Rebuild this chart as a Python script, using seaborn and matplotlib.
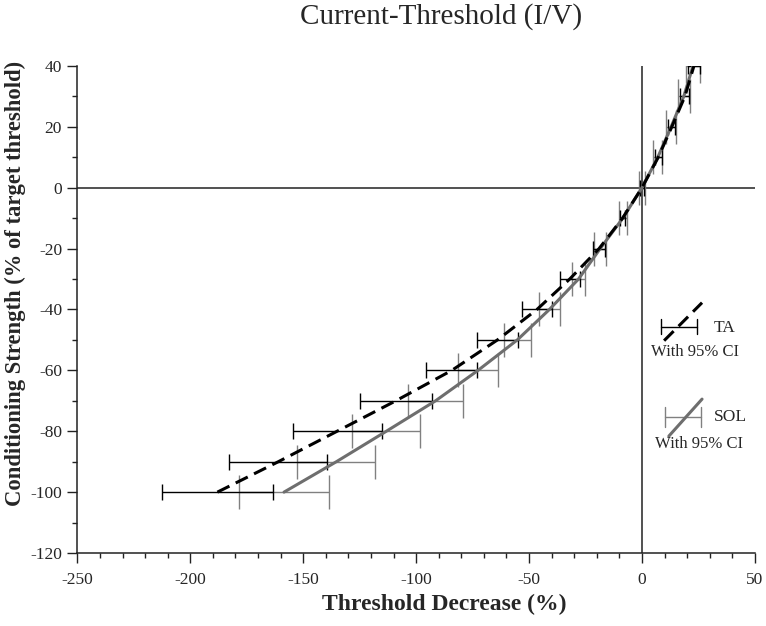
import numpy as np
import pandas as pd
import matplotlib
matplotlib.use("Agg")
import matplotlib.pyplot as plt
import seaborn as sns
from matplotlib.ticker import MultipleLocator

# conditioning strength levels (% of target threshold)
strength = [-100, -90, -80, -70, -60, -50, -40, -30, -20, -10, 0, 10, 20, 30, 40]

# threshold decrease (%) with 95% CI half widths
ta_decrease = [-188, -161, -135, -109, -84.2, -64, -46.5, -32, -19, -8.6, 0, 7.2, 13.2, 19, 23]
ta_ci = [24.5, 21.7, 19.7, 16, 11.3, 8.9, 6.6, 4.4, 2.7, 1.3, 1, 1.5, 1.6, 2, 2.6]
sol_decrease = [-158.5, -135.3, -113.2, -91.4, -72.6, -55.2, -41, -28.1, -18.5, -8.5, 0, 7, 12.9, 18.5, 22.6]
sol_ci = [20, 17.3, 15, 12, 8.9, 5.9, 4.6, 2.8, 2.7, 1.7, 1.2, 2, 2.3, 2.7, 3.2]

ta_color = "black"
sol_color = "#6e6e6e"
sol_bar_color = "#808080"

sns.set_style("ticks")
plt.rcParams["font.family"] = ["Liberation Serif", "DejaVu Serif"]
plt.rcParams["axes.unicode_minus"] = False

df = pd.DataFrame({
    "decrease": ta_decrease + sol_decrease,
    "strength": strength + strength,
    "muscle": ["TA"] * len(strength) + ["SOL"] * len(strength),
})

fig = plt.figure(figsize=(7.66, 6.26), dpi=100)
ax = fig.add_axes([0.101, 0.1166, 0.8845, 0.778])

# reference lines through the origin
ax.axvline(0, color="#222222", lw=1.1, zorder=1)
ax.axhline(0, color="#222222", lw=1.1, zorder=1)

# confidence intervals
ax.errorbar(sol_decrease, strength, xerr=sol_ci, fmt="none", ecolor=sol_bar_color,
            elinewidth=1.0, capsize=12, capthick=1.0, zorder=2)
ax.errorbar(ta_decrease, strength, xerr=ta_ci, fmt="none", ecolor=ta_color,
            elinewidth=1.0, capsize=6, capthick=1.0, zorder=3)

sns.lineplot(data=df, x="decrease", y="strength", hue="muscle", style="muscle",
             hue_order=["SOL", "TA"], palette={"TA": ta_color, "SOL": sol_color},
             dashes={"TA": (4.4, 2.3), "SOL": ""}, linewidth=2.2, sort=False,
             estimator=None, legend=False, ax=ax, zorder=4)

ax.set_xlim(-250, 50)
ax.set_ylim(-120, 40)
ax.xaxis.set_major_locator(MultipleLocator(50))
ax.xaxis.set_minor_locator(MultipleLocator(10))
ax.yaxis.set_major_locator(MultipleLocator(20))
ax.yaxis.set_minor_locator(MultipleLocator(10))
ax.tick_params(which="major", length=7, width=1.0, labelsize=12.5, color="#222222")
ax.tick_params(which="minor", length=3.6, width=1.0, color="#222222")
ax.tick_params(axis="x", which="major", pad=7)
ax.tick_params(axis="y", which="major", pad=4)
sns.despine(ax=ax)
for side in ["left", "bottom"]:
    ax.spines[side].set_linewidth(1.1)
    ax.spines[side].set_color("#222222")

ax.set_xlabel("Threshold Decrease (%)", fontsize=17, fontweight="bold")
ax.set_ylabel("Conditioning Strength (% of target threshold)", fontsize=16.3, fontweight="bold")
ax.xaxis.set_label_coords(0.541, -0.084)
ax.yaxis.set_label_coords(-0.076, 0.554)

fig.text(441 / 766, 1 - 17 / 626, "Current-Threshold (I/V)", fontsize=21,
         ha="center", va="center")

# hand drawn key, as in the original figure
tr = ax.transAxes
ax.plot([0.862, 0.915], [0.465, 0.465], color=ta_color, lw=1.0, transform=tr)
for xx in [0.862, 0.915]:
    ax.plot([xx, xx], [0.449, 0.481], color=ta_color, lw=1.0, transform=tr)
ax.plot([0.866, 0.922], [0.436, 0.514], color=ta_color, lw=2.2, dashes=(4.4, 2.3),
        transform=tr)
ax.text(0.939, 0.463, "TA", fontsize=12.5, ha="left", va="center", transform=tr)
ax.text(0.912, 0.412, "With 95% CI", fontsize=12, ha="center", va="center", transform=tr)

ax.plot([0.867, 0.921], [0.279, 0.279], color=sol_bar_color, lw=1.0, transform=tr)
for xx in [0.867, 0.921]:
    ax.plot([xx, xx], [0.259, 0.299], color=sol_bar_color, lw=1.0, transform=tr)
ax.plot([0.873, 0.922], [0.240, 0.316], color=sol_color, lw=2.2, transform=tr)
ax.text(0.939, 0.279, "SOL", fontsize=12.5, ha="left", va="center", transform=tr)
ax.text(0.918, 0.224, "With 95% CI", fontsize=12, ha="center", va="center", transform=tr)

fig.savefig("out.png", dpi=100)
